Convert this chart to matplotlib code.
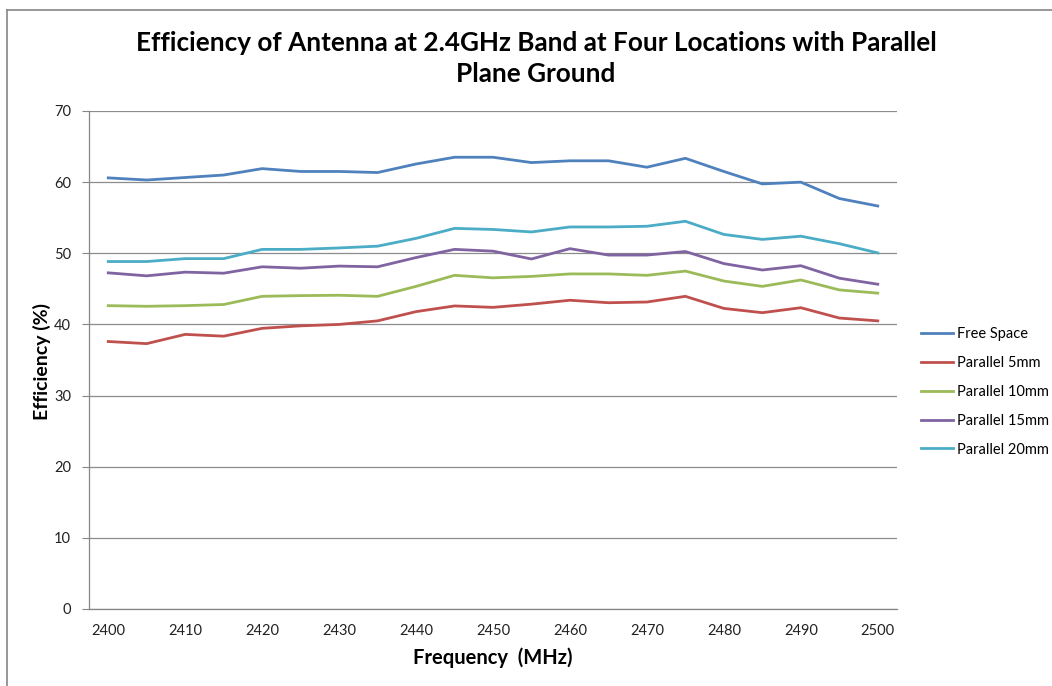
import matplotlib
matplotlib.use("Agg")
import matplotlib.pyplot as plt
from matplotlib.lines import Line2D

frequencies = [2400, 2405, 2410, 2415, 2420, 2425, 2430, 2435, 2440, 2445, 2450,
               2455, 2460, 2465, 2470, 2475, 2480, 2485, 2490, 2495, 2500]
free_space = [60.6, 60.3, 60.65, 61.0, 61.9, 61.5, 61.5, 61.35, 62.55, 63.5, 63.5,
              62.75, 63.0, 63.0, 62.1, 63.35, 61.5, 59.75, 60.0, 57.7, 56.65]
parallel_5 = [37.6, 37.3, 38.6, 38.35, 39.45, 39.8, 40.0, 40.5, 41.8, 42.6, 42.4,
              42.85, 43.4, 43.05, 43.15, 43.95, 42.25, 41.65, 42.35, 40.9, 40.5]
parallel_10 = [42.64, 42.55, 42.64, 42.8, 43.95, 44.05, 44.1, 43.95, 45.35, 46.9, 46.55,
               46.75, 47.1, 47.1, 46.9, 47.5, 46.1, 45.35, 46.25, 44.85, 44.4]
parallel_15 = [47.25, 46.83, 47.35, 47.2, 48.1, 47.9, 48.2, 48.1, 49.4, 50.55, 50.3,
               49.2, 50.65, 49.75, 49.75, 50.25, 48.55, 47.65, 48.25, 46.5, 45.65]
parallel_20 = [48.84, 48.84, 49.25, 49.25, 50.55, 50.55, 50.75, 51.0, 52.1, 53.5, 53.35,
               53.0, 53.7, 53.7, 53.8, 54.5, 52.65, 51.95, 52.4, 51.35, 50.05]
series_names = ["Free Space", "Parallel 5mm", "Parallel 10mm", "Parallel 15mm", "Parallel 20mm"]
colors = ["#4F81BD", "#C0504D", "#9BBB59", "#8064A2", "#4BACC6"]
y_ticks = [0, 10, 20, 30, 40, 50, 60, 70]

plt.rcParams['font.family'] = ['Lato', 'DejaVu Sans']

fig = plt.figure(figsize=(10.52, 6.86), dpi=100)
ax = fig.add_axes([89/1052, 1 - 609/686, (897-89)/1052, (609-111)/686])

idx = list(range(len(frequencies)))
for vals, name, c in zip([free_space, parallel_5, parallel_10, parallel_15, parallel_20],
                         series_names, colors):
    ax.plot(idx, vals, color=c, lw=2.0, label=name, solid_joinstyle='round')

ax.set_xlim(-0.5, len(frequencies) - 0.5)
ax.set_ylim(0, 70)
ax.set_yticks(y_ticks)
ax.set_yticklabels([str(v) for v in y_ticks], fontsize=10.5, color='#222222')
ax.set_xticks(idx[::2])
ax.set_xticklabels([str(f) for f in frequencies[::2]], fontsize=10.5, color='#222222')
ax.tick_params(axis='x', length=0, pad=11)
ax.tick_params(axis='y', length=5, width=0.8, color='#868686', pad=8)
ax.grid(axis='y', color='#8c8c8c', lw=0.9)
ax.set_axisbelow(True)
for s in ['top', 'right']:
    ax.spines[s].set_visible(False)
for s in ['left', 'bottom']:
    ax.spines[s].set_color('#868686')
    ax.spines[s].set_linewidth(0.9)

fig.text(493/1052, 1 - 658/686, "Frequency  (MHz)", ha='center', va='center',
         fontsize=14.5, fontweight='bold')
fig.text(42/1052, 1 - 361/686, "Efficiency (%)", ha='center', va='center',
         rotation=90, fontsize=14, fontweight='bold')
fig.text(536/1052, 1 - 43/686, "Efficiency of Antenna at 2.4GHz Band at Four Locations with Parallel",
         ha='center', va='center', fontsize=18.8, fontweight='bold')
fig.text(536/1052, 1 - 74/686, "Plane Ground",
         ha='center', va='center', fontsize=18.8, fontweight='bold')

leg = ax.legend(loc='upper left', bbox_to_anchor=(921/1052, 1 - 327/686),
                bbox_transform=fig.transFigure, frameon=False, fontsize=10.5,
                handlelength=2.2, handletextpad=0.27, labelspacing=1.02,
                borderaxespad=0, borderpad=0)

# chart border (top and left visible)
fig.add_artist(Line2D([7/1052, 7/1052], [0, 1 - 10/686], transform=fig.transFigure,
                      color='#868686', lw=1.2))
fig.add_artist(Line2D([7/1052, 1], [1 - 10/686, 1 - 10/686], transform=fig.transFigure,
                      color='#868686', lw=1.2))

fig.savefig("out.png", dpi=100)
